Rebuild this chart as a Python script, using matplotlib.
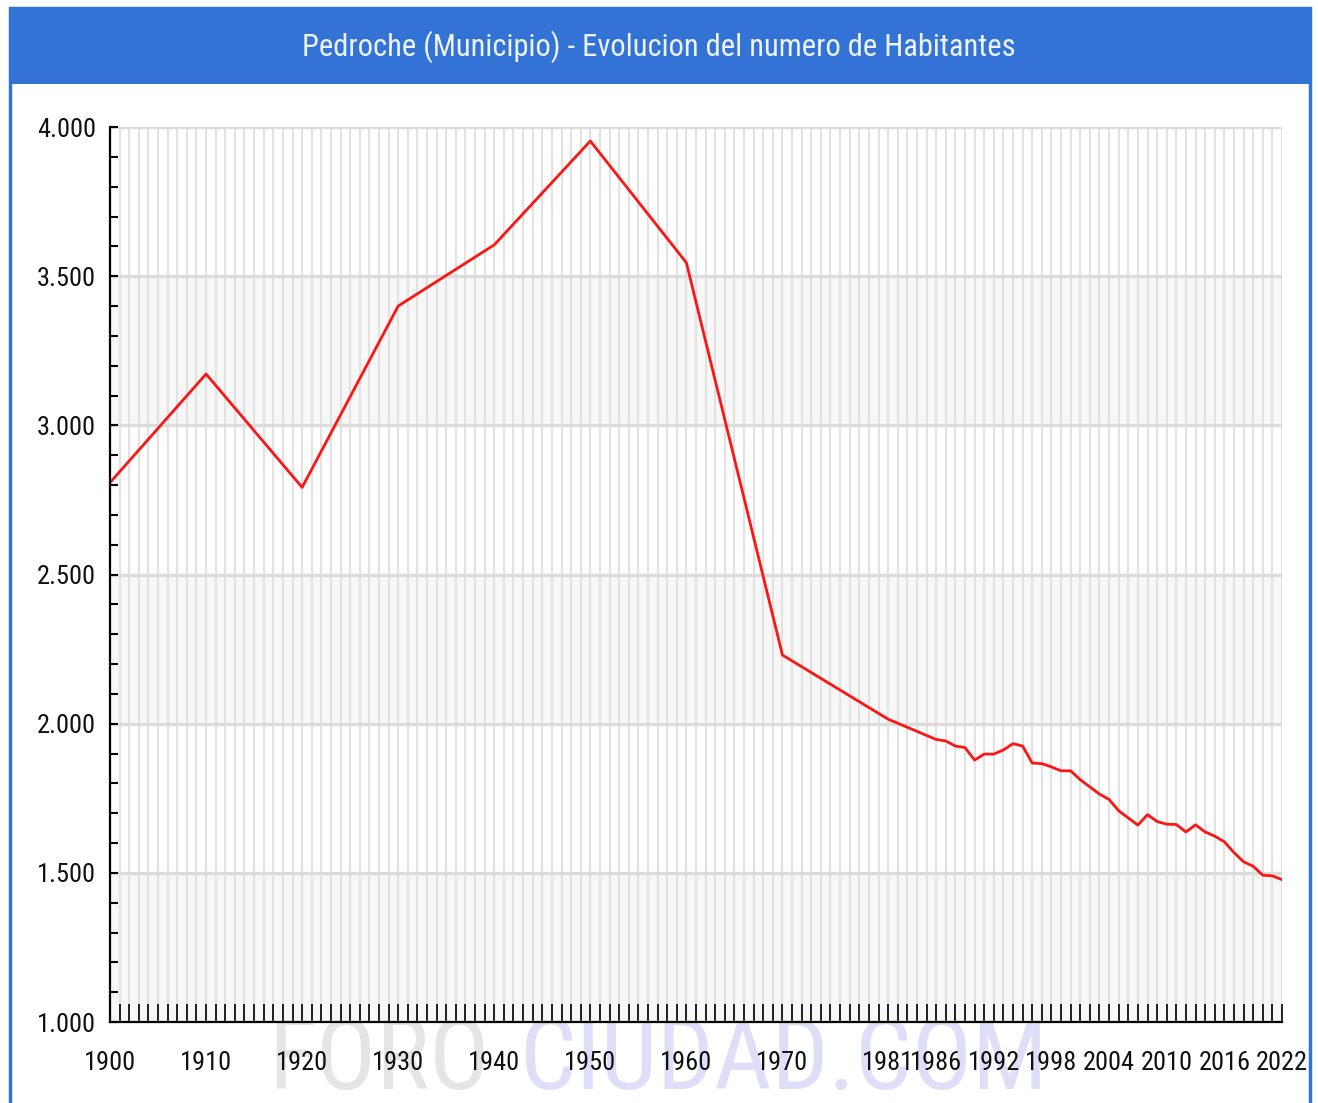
import matplotlib
matplotlib.use("Agg")
import matplotlib.pyplot as plt
from matplotlib.ticker import MultipleLocator, FixedLocator, FuncFormatter
from matplotlib.patches import Rectangle

# ---------------- data ----------------
years = [1900, 1910, 1920, 1930, 1940, 1950, 1960, 1970, 1981, 1986,
         1987, 1988, 1989, 1990, 1991, 1992, 1993, 1994, 1995, 1996,
         1997, 1998, 1999, 2000, 2001, 2002, 2003, 2004, 2005, 2006,
         2007, 2008, 2009, 2010, 2011, 2012, 2013, 2014, 2015, 2016,
         2017, 2018, 2019, 2020, 2021, 2022]
population = [2808, 3172, 2792, 3400, 3605, 3953, 3545, 2230, 2015, 1947,
              1942, 1925, 1920, 1878, 1898, 1898, 1912, 1933, 1925, 1868,
              1866, 1855, 1842, 1842, 1812, 1788, 1764, 1746, 1708, 1684,
              1660, 1695, 1672, 1663, 1662, 1637, 1661, 1637, 1623, 1604,
              1568, 1537, 1522, 1492, 1490, 1477]

x_tick_years = [1900, 1910, 1920, 1930, 1940, 1950, 1960, 1970, 1981,
                1986, 1992, 1998, 2004, 2010, 2016, 2022]
y_tick_values = [1000, 1500, 2000, 2500, 3000, 3500, 4000]
title = "Pedroche (Municipio) - Evolucion del numero de Habitantes"
watermark_a = "FORO"
watermark_b = "CIUDAD.COM"

# ---------------- styling ----------------
W, H = 1318, 1103
BLUE = "#3473d6"
FONT = ["Liberation Sans Narrow", "Roboto Condensed", "DejaVu Sans"]
STRETCH = "condensed"

fig = plt.figure(figsize=(W / 100, H / 100), dpi=100)
fig.patch.set_facecolor("white")

# outer frame and title bar
fig.patches.append(Rectangle((10 / W, -0.01), 1300 / W, 1 - 8 / H + 0.01,
                             transform=fig.transFigure, facecolor="white",
                             edgecolor=BLUE, lw=2.5, zorder=0))
fig.patches.append(Rectangle((10 / W, 1 - 84 / H), 1300 / W, 76 / H,
                             transform=fig.transFigure, facecolor=BLUE,
                             edgecolor="none", zorder=1))
fig.text(659 / W, 1 - 47 / H, title, color="#eef3fb", fontsize=22,
         family=FONT, fontstretch=STRETCH, ha="center", va="center", zorder=2)

# watermark
fig.text(268 / W, 1 - 1014 / H, watermark_a, color="#e5e5e5", fontsize=72,
         family=FONT, fontstretch=STRETCH, ha="left", va="top", zorder=0.5)
fig.text(520 / W, 1 - 1014 / H, watermark_b, color="#dedef8", fontsize=72,
         family=FONT, fontstretch=STRETCH, ha="left", va="top", zorder=0.5)

ax = fig.add_axes([110 / W, 1 - 1022 / H, 1172 / W, 895 / H])
ax.set_zorder(3)
ax.set_facecolor("none")
ax.set_xlim(1900, 2022)
ax.set_ylim(1000, 4000)

# alternating bands
for lo in (1000, 2000, 3000):
    ax.axhspan(lo, lo + 500, color="#f7f7f7", zorder=0, lw=0)

# ticks
ax.xaxis.set_major_locator(FixedLocator(x_tick_years))
ax.xaxis.set_minor_locator(MultipleLocator(1))
ax.yaxis.set_major_locator(FixedLocator(y_tick_values))
ax.yaxis.set_minor_locator(MultipleLocator(100))
ax.yaxis.set_major_formatter(FuncFormatter(lambda v, p: f"{v:,.0f}".replace(",", ".")))
ax.xaxis.set_major_formatter(FuncFormatter(lambda v, p: f"{int(round(v))}"))

ax.grid(True, which="both", axis="x", color="#e2e2e2", lw=1.5, zorder=1)
ax.grid(True, which="major", axis="y", color="#dcdcdc", lw=2.4, zorder=1)
ax.set_axisbelow(True)

ax.tick_params(axis="x", which="both", direction="in", length=13, width=1.2,
               color="black", pad=21, labelsize=19, labelcolor="#111111")
ax.tick_params(axis="y", which="both", direction="in", length=6, width=1.5,
               color="black", pad=10, labelsize=19, labelcolor="#111111")
for lab in ax.get_xticklabels() + ax.get_yticklabels():
    lab.set_family(FONT)
    lab.set_fontstretch(STRETCH)

for s in ("top", "right"):
    ax.spines[s].set_visible(False)
for s in ("left", "bottom"):
    ax.spines[s].set_color("black")
    ax.spines[s].set_linewidth(1.6)
    ax.spines[s].set_zorder(4)

ax.plot(years, population, color="#ff1414", lw=2.0, zorder=3,
        solid_joinstyle="round")

fig.savefig("out.png", dpi=100, facecolor="white")
